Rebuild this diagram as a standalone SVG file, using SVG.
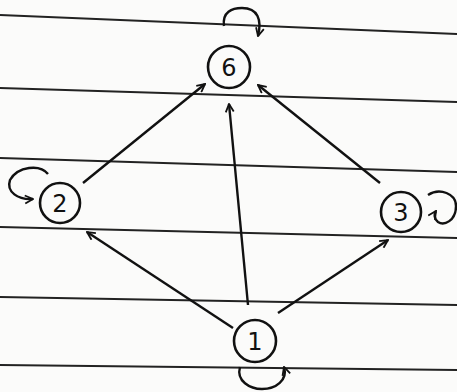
<svg xmlns="http://www.w3.org/2000/svg" width="457" height="392" viewBox="0 0 457 392">
<defs>
<marker id="ah" viewBox="0 0 10 10" refX="9" refY="5" markerWidth="10" markerHeight="10" orient="auto" markerUnits="userSpaceOnUse">
<path d="M1,1 L9,5 L1,9" fill="none" stroke="#111" stroke-width="1.8"/>
</marker>
</defs>
<style>
.rule{stroke:#222;stroke-width:1.8;fill:none}
.node circle{fill:none;stroke:#111;stroke-width:2.6}
.node text{font-family:"DejaVu Sans",sans-serif;font-size:24px;fill:#111;text-anchor:middle;dominant-baseline:central}
.edge{stroke:#111;stroke-width:2.4;fill:none;marker-end:url(#ah)}
</style>
<rect width="457" height="392" fill="#fbfbfa"/>
<g id="ruled-lines">
<line class="rule" x1="0" y1="15" x2="457" y2="34"/>
<line class="rule" x1="0" y1="88" x2="457" y2="102"/>
<line class="rule" x1="0" y1="158" x2="457" y2="172"/>
<line class="rule" x1="0" y1="227" x2="457" y2="238"/>
<line class="rule" x1="0" y1="297" x2="457" y2="305"/>
<line class="rule" x1="0" y1="365" x2="457" y2="370"/>
</g>
<g id="connectors">
<line class="edge" x1="83" y1="183" x2="205" y2="84"/>
<line class="edge" x1="233" y1="328" x2="87" y2="232"/>
<line class="edge" x1="248" y1="305" x2="229" y2="104"/>
<line class="edge" x1="278" y1="313" x2="388" y2="240"/>
<line class="edge" x1="380" y1="183" x2="258" y2="85"/>
<path class="edge" d="M224,26 C222,12 232,8 242,8 C258,8 262,20 258,36"/>
<path class="edge" d="M48,174 C40,164 18,166 10,180 C6,192 18,200 33,199"/>
<path class="edge" d="M428,195 C440,187 456,194 456,206 C456,221 444,226 438,222 C434,219 434,214 436,211"/>
<path class="edge" d="M240,367 C236,381 250,389 262,389 C276,389 288,380 284,367"/>
</g>
<g id="node-6" class="node"><circle cx="229" cy="67" r="21"/><text x="229" y="68">6</text></g>
<g id="node-2" class="node"><circle cx="60" cy="203" r="20"/><text x="60" y="204">2</text></g>
<g id="node-3" class="node"><circle cx="401" cy="212" r="20"/><text x="401" y="213">3</text></g>
<g id="node-1" class="node"><circle cx="255" cy="341" r="21"/><text x="255" y="342">1</text></g>
</svg>
